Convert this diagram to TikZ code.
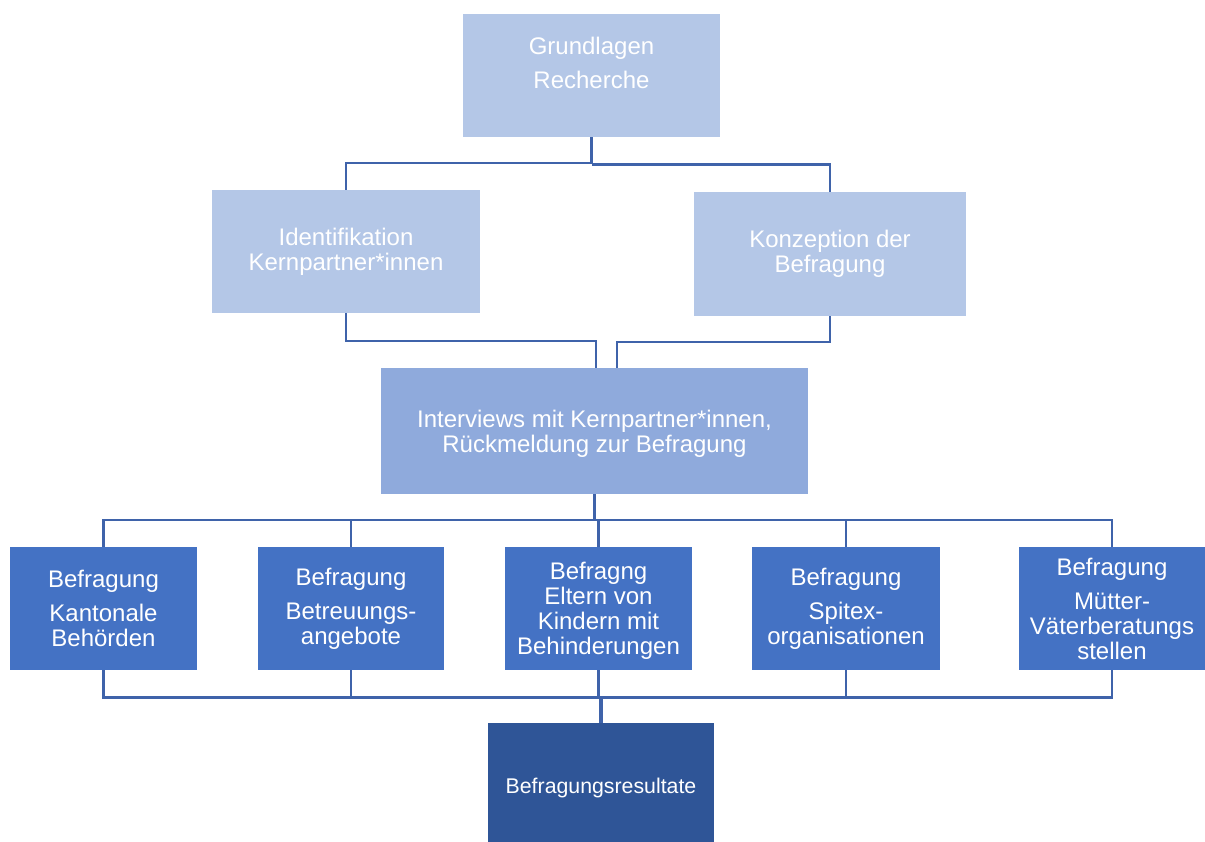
\documentclass[tikz,border=0pt]{standalone}
\usepackage{fontspec}
\setmainfont{Liberation Sans}
\definecolor{lightbox}{RGB}{180,199,231}
\definecolor{midbox}{RGB}{143,170,220}
\definecolor{darkbox}{RGB}{68,114,196}
\definecolor{resbox}{RGB}{47,85,151}
\definecolor{conncol}{RGB}{63,99,170}
\tikzset{
  box/.style={rectangle, draw=none, text=white, align=center, inner sep=2pt,
    font=\fontsize{24}{25}\selectfont},
  conn/.style={draw=conncol, line width=2.6pt},
}
\begin{document}
\begin{tikzpicture}[x=1pt,y=-1pt]
\useasboundingbox (0,0) rectangle (1205,842);
\node[box, fill=lightbox, minimum width=257, minimum height=123] (top) at (591.5,75.5) {};
\node[box] (toptext) at ([yshift=13pt]top.center) {Grundlagen\\[9pt]Recherche};
\node[box, fill=lightbox, minimum width=268, minimum height=123] (ident) at (346,251.5)
  {Identifikation\\Kernpartner*innen};
\node[box, fill=lightbox, minimum width=272, minimum height=124] (konz) at (830,254)
  {Konzeption der\\Befragung};
\node[box, fill=midbox, minimum width=427, minimum height=126] (inter) at (594.5,431) {};
\node[box] (intertext) at ([yshift=-3pt]inter.center)
  {Interviews mit Kernpartner*innen,\\Rückmeldung zur Befragung};
\node[box, fill=darkbox, minimum width=187, minimum height=123] (b1) at (103.5,608.5)
  {Befragung\\[9pt]Kantonale\\Behörden};
\node[box, fill=darkbox, minimum width=186, minimum height=123] (b2) at (351,608.5)
  {Befragung\\[9pt]Betreuungs-\\angebote};
\node[box, fill=darkbox, minimum width=187, minimum height=123] (b3) at (598.5,608.5) {};
\node[box] (b3text) at ([yshift=-2pt]b3.center)
  {Befragng\\Eltern von\\Kindern mit\\Behinderungen};
\node[box, fill=darkbox, minimum width=188, minimum height=123] (b4) at (846,608.5)
  {Befragung\\[9pt]Spitex-\\organisationen};
\node[box, fill=darkbox, minimum width=186, minimum height=123] (b5) at (1112,608.5)
  {Befragung\\[9pt]Mütter-\\Väterberatungs\\stellen};
\node[box, fill=resbox, minimum width=226, minimum height=119] (res) at (601,782.5) {};
\node[box, font=\fontsize{21.3}{23}\selectfont] (restext) at ([yshift=-5pt]res.center)
  {Befragungsresultate};
% top -> second level
\draw[conn] (top.south) -- ++(0,26) -| (ident.north);
\draw[conn] ([yshift=-27.5pt]top.south) -| (konz.north);
% second level -> interviews
\draw[conn] (ident.south) -- ++(0,28) -| ([xshift=1.5pt]inter.north);
\draw[conn] (konz.south) -- ++(0,26) -| ([xshift=22.5pt]inter.north);
% interviews -> bottom row
\draw[conn] (inter.south) -- ++(0,26);
\draw[conn] (b1.north) -- ++(0,-27) -| (b5.north);
\draw[conn] (b2.north) -- ++(0,-27);
\draw[conn] (b3.north) -- ++(0,-27);
\draw[conn] (b4.north) -- ++(0,-27);
% bottom row -> results
\draw[conn] (b1.south) -- ++(0,27) -| (b5.south);
\draw[conn] (b2.south) -- ++(0,27);
\draw[conn] (b3.south) -- ++(0,27);
\draw[conn] (b4.south) -- ++(0,27);
\draw[conn, line width=3.5pt] (res.north) -- ++(0,-26);
\end{tikzpicture}
\end{document}
